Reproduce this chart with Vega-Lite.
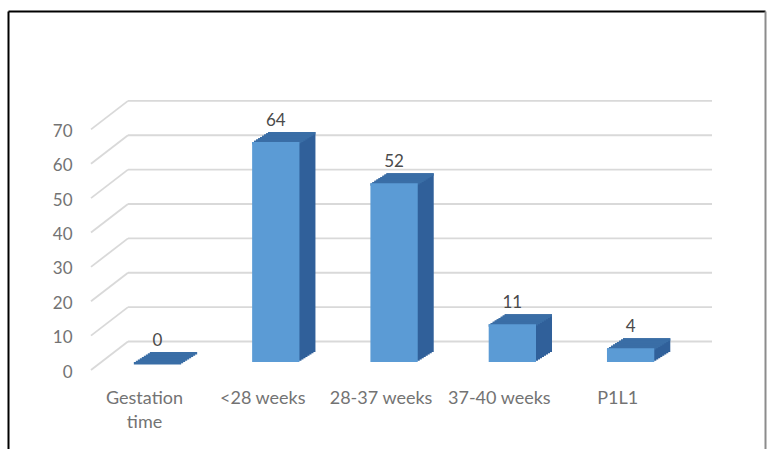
{
  "$schema": "https://vega.github.io/schema/vega-lite/v6.json",
  "width": 757,
  "height": 438,
  "autosize": "none",
  "padding": {"left": 8, "top": 11, "right": 2, "bottom": 0},
  "background": "#ffffff",
  "config": {"view": {"stroke": null}, "font": "Lato"},
  "datasets": {
    "bars": [
      {"cat": "Gestation time", "v": 0},
      {"cat": "<28 weeks", "v": 64},
      {"cat": "28-37 weeks", "v": 52},
      {"cat": "37-40 weeks", "v": 11},
      {"cat": "P1L1", "v": 4}
    ],
    "ticks": [{"t": 0}, {"t": 10}, {"t": 20}, {"t": 30}, {"t": 40}, {"t": 50}, {"t": 60}, {"t": 70}]
  },
  "layer": [
    {
      "data": {"name": "ticks"},
      "mark": {"type": "rule", "color": "#d9d9d9", "strokeWidth": 1.8, "xOffset": 120, "x2Offset": -53, "yOffset": -20.5},
      "encoding": {
        "x": {"value": 0},
        "x2": {"value": "width"},
        "y": {"field": "t", "type": "quantitative", "scale": {"domain": [-25.309, 102.109], "nice": false, "zero": false},
          "axis": {"orient": "left", "values": [0, 10, 20, 30, 40, 50, 60, 70], "domain": true, "domainColor": "#000000", "domainWidth": 2, "ticks": false, "tickSize": 0, "labelPadding": -64, "labelOffset": 10, "labelAlign": "right", "labelBaseline": "middle", "labelFont": "Lato", "labelFontSize": 17, "labelColor": "#737373", "grid": false, "title": null, "labelOverlap": false, "labelBound": false, "labelFlush": false}}
      }
    },
    {
      "data": {"name": "ticks"},
      "mark": {"type": "rule", "color": "#d9d9d9", "strokeWidth": 1.8, "xOffset": 83, "x2Offset": 120, "yOffset": 8, "y2Offset": -20.5},
      "encoding": {
        "x": {"value": 0},
        "x2": {"value": 0},
        "y": {"field": "t", "type": "quantitative", "scale": {"domain": [-25.309, 102.109], "nice": false, "zero": false}, "axis": null},
        "y2": {"field": "t"}
      }
    },
    {"data": {"name": "bars"}, "mark": {"type": "bar", "color": "#30609a", "xOffset": 2, "x2Offset": 2, "yOffset": -1.25, "y2Offset": -1.25},
      "encoding": {"x": {"field": "cat", "type": "nominal", "sort": null, "scale": {"type": "band", "paddingInner": 0.6, "paddingOuter": 1.035, "align": 0.532},
        "axis": {"orient": "top", "domain": true, "domainColor": "#000000", "domainWidth": 2, "labels": false, "ticks": false, "grid": false, "title": null}},
        "y": {"field": "v", "type": "quantitative", "scale": {"domain": [-25.309, 102.109], "nice": false, "zero": false},
          "axis": {"orient": "right", "domain": true, "domainColor": "#8c8c8c", "domainWidth": 2, "labels": false, "ticks": false, "grid": false, "title": null}},
        "y2": {"datum": 0}}},
    {"data": {"name": "bars"}, "mark": {"type": "bar", "color": "#30609a", "xOffset": 4, "x2Offset": 4, "yOffset": -2.5, "y2Offset": -2.5},
      "encoding": {"x": {"field": "cat", "type": "nominal", "sort": null, "scale": {"type": "band", "paddingInner": 0.6, "paddingOuter": 1.035, "align": 0.532}, "axis": null},
        "y": {"field": "v", "type": "quantitative", "scale": {"domain": [-25.309, 102.109], "nice": false, "zero": false}, "axis": null}, "y2": {"datum": 0}}},
    {"data": {"name": "bars"}, "mark": {"type": "bar", "color": "#30609a", "xOffset": 6, "x2Offset": 6, "yOffset": -3.75, "y2Offset": -3.75},
      "encoding": {"x": {"field": "cat", "type": "nominal", "sort": null, "scale": {"type": "band", "paddingInner": 0.6, "paddingOuter": 1.035, "align": 0.532}, "axis": null},
        "y": {"field": "v", "type": "quantitative", "scale": {"domain": [-25.309, 102.109], "nice": false, "zero": false}, "axis": null}, "y2": {"datum": 0}}},
    {"data": {"name": "bars"}, "mark": {"type": "bar", "color": "#30609a", "xOffset": 8, "x2Offset": 8, "yOffset": -5, "y2Offset": -5},
      "encoding": {"x": {"field": "cat", "type": "nominal", "sort": null, "scale": {"type": "band", "paddingInner": 0.6, "paddingOuter": 1.035, "align": 0.532}, "axis": null},
        "y": {"field": "v", "type": "quantitative", "scale": {"domain": [-25.309, 102.109], "nice": false, "zero": false}, "axis": null}, "y2": {"datum": 0}}},
    {"data": {"name": "bars"}, "mark": {"type": "bar", "color": "#30609a", "xOffset": 10, "x2Offset": 10, "yOffset": -6.25, "y2Offset": -6.25},
      "encoding": {"x": {"field": "cat", "type": "nominal", "sort": null, "scale": {"type": "band", "paddingInner": 0.6, "paddingOuter": 1.035, "align": 0.532}, "axis": null},
        "y": {"field": "v", "type": "quantitative", "scale": {"domain": [-25.309, 102.109], "nice": false, "zero": false}, "axis": null}, "y2": {"datum": 0}}},
    {"data": {"name": "bars"}, "mark": {"type": "bar", "color": "#30609a", "xOffset": 12, "x2Offset": 12, "yOffset": -7.5, "y2Offset": -7.5},
      "encoding": {"x": {"field": "cat", "type": "nominal", "sort": null, "scale": {"type": "band", "paddingInner": 0.6, "paddingOuter": 1.035, "align": 0.532}, "axis": null},
        "y": {"field": "v", "type": "quantitative", "scale": {"domain": [-25.309, 102.109], "nice": false, "zero": false}, "axis": null}, "y2": {"datum": 0}}},
    {"data": {"name": "bars"}, "mark": {"type": "bar", "color": "#30609a", "xOffset": 14, "x2Offset": 14, "yOffset": -8.75, "y2Offset": -8.75},
      "encoding": {"x": {"field": "cat", "type": "nominal", "sort": null, "scale": {"type": "band", "paddingInner": 0.6, "paddingOuter": 1.035, "align": 0.532}, "axis": null},
        "y": {"field": "v", "type": "quantitative", "scale": {"domain": [-25.309, 102.109], "nice": false, "zero": false}, "axis": null}, "y2": {"datum": 0}}},
    {"data": {"name": "bars"}, "mark": {"type": "bar", "color": "#30609a", "xOffset": 16, "x2Offset": 16, "yOffset": -10, "y2Offset": -10},
      "encoding": {"x": {"field": "cat", "type": "nominal", "sort": null, "scale": {"type": "band", "paddingInner": 0.6, "paddingOuter": 1.035, "align": 0.532}, "axis": null},
        "y": {"field": "v", "type": "quantitative", "scale": {"domain": [-25.309, 102.109], "nice": false, "zero": false}, "axis": null}, "y2": {"datum": 0}}},
    {"data": {"name": "bars"}, "mark": {"type": "bar", "color": "#3a6ea6", "xOffset": 0, "x2Offset": 0, "yOffset": 0, "y2Offset": 2.5},
      "encoding": {"x": {"field": "cat", "type": "nominal", "sort": null, "scale": {"type": "band", "paddingInner": 0.6, "paddingOuter": 1.035, "align": 0.532}, "axis": null},
        "y": {"field": "v", "type": "quantitative", "scale": {"domain": [-25.309, 102.109], "nice": false, "zero": false}, "axis": null}, "y2": {"field": "v"}}},
    {"data": {"name": "bars"}, "mark": {"type": "bar", "color": "#3a6ea6", "xOffset": 2, "x2Offset": 2, "yOffset": -1.25, "y2Offset": 1.25},
      "encoding": {"x": {"field": "cat", "type": "nominal", "sort": null, "scale": {"type": "band", "paddingInner": 0.6, "paddingOuter": 1.035, "align": 0.532}, "axis": null},
        "y": {"field": "v", "type": "quantitative", "scale": {"domain": [-25.309, 102.109], "nice": false, "zero": false}, "axis": null}, "y2": {"field": "v"}}},
    {"data": {"name": "bars"}, "mark": {"type": "bar", "color": "#3a6ea6", "xOffset": 4, "x2Offset": 4, "yOffset": -2.5, "y2Offset": 0},
      "encoding": {"x": {"field": "cat", "type": "nominal", "sort": null, "scale": {"type": "band", "paddingInner": 0.6, "paddingOuter": 1.035, "align": 0.532}, "axis": null},
        "y": {"field": "v", "type": "quantitative", "scale": {"domain": [-25.309, 102.109], "nice": false, "zero": false}, "axis": null}, "y2": {"field": "v"}}},
    {"data": {"name": "bars"}, "mark": {"type": "bar", "color": "#3a6ea6", "xOffset": 6, "x2Offset": 6, "yOffset": -3.75, "y2Offset": -1.25},
      "encoding": {"x": {"field": "cat", "type": "nominal", "sort": null, "scale": {"type": "band", "paddingInner": 0.6, "paddingOuter": 1.035, "align": 0.532}, "axis": null},
        "y": {"field": "v", "type": "quantitative", "scale": {"domain": [-25.309, 102.109], "nice": false, "zero": false}, "axis": null}, "y2": {"field": "v"}}},
    {"data": {"name": "bars"}, "mark": {"type": "bar", "color": "#3a6ea6", "xOffset": 8, "x2Offset": 8, "yOffset": -5, "y2Offset": -2.5},
      "encoding": {"x": {"field": "cat", "type": "nominal", "sort": null, "scale": {"type": "band", "paddingInner": 0.6, "paddingOuter": 1.035, "align": 0.532}, "axis": null},
        "y": {"field": "v", "type": "quantitative", "scale": {"domain": [-25.309, 102.109], "nice": false, "zero": false}, "axis": null}, "y2": {"field": "v"}}},
    {"data": {"name": "bars"}, "mark": {"type": "bar", "color": "#3a6ea6", "xOffset": 10, "x2Offset": 10, "yOffset": -6.25, "y2Offset": -3.75},
      "encoding": {"x": {"field": "cat", "type": "nominal", "sort": null, "scale": {"type": "band", "paddingInner": 0.6, "paddingOuter": 1.035, "align": 0.532}, "axis": null},
        "y": {"field": "v", "type": "quantitative", "scale": {"domain": [-25.309, 102.109], "nice": false, "zero": false}, "axis": null}, "y2": {"field": "v"}}},
    {"data": {"name": "bars"}, "mark": {"type": "bar", "color": "#3a6ea6", "xOffset": 12, "x2Offset": 12, "yOffset": -7.5, "y2Offset": -5},
      "encoding": {"x": {"field": "cat", "type": "nominal", "sort": null, "scale": {"type": "band", "paddingInner": 0.6, "paddingOuter": 1.035, "align": 0.532}, "axis": null},
        "y": {"field": "v", "type": "quantitative", "scale": {"domain": [-25.309, 102.109], "nice": false, "zero": false}, "axis": null}, "y2": {"field": "v"}}},
    {"data": {"name": "bars"}, "mark": {"type": "bar", "color": "#3a6ea6", "xOffset": 14, "x2Offset": 14, "yOffset": -8.75, "y2Offset": -6.25},
      "encoding": {"x": {"field": "cat", "type": "nominal", "sort": null, "scale": {"type": "band", "paddingInner": 0.6, "paddingOuter": 1.035, "align": 0.532}, "axis": null},
        "y": {"field": "v", "type": "quantitative", "scale": {"domain": [-25.309, 102.109], "nice": false, "zero": false}, "axis": null}, "y2": {"field": "v"}}},
    {"data": {"name": "bars"}, "mark": {"type": "bar", "color": "#3a6ea6", "xOffset": 16, "x2Offset": 16, "yOffset": -10, "y2Offset": -7.5},
      "encoding": {"x": {"field": "cat", "type": "nominal", "sort": null, "scale": {"type": "band", "paddingInner": 0.6, "paddingOuter": 1.035, "align": 0.532}, "axis": null},
        "y": {"field": "v", "type": "quantitative", "scale": {"domain": [-25.309, 102.109], "nice": false, "zero": false}, "axis": null}, "y2": {"field": "v"}}},
    {"data": {"name": "bars"}, "mark": {"type": "bar", "color": "#5b9bd5"},
      "encoding": {"x": {"field": "cat", "type": "nominal", "sort": null, "scale": {"type": "band", "paddingInner": 0.6, "paddingOuter": 1.035, "align": 0.532},
        "axis": {"orient": "bottom", "domain": false, "ticks": false, "tickSize": 0, "labelPadding": -60, "labelOffset": -13, "labelAngle": 0, "labelFont": "Lato", "labelFontSize": 18, "labelColor": "#737373", "labelLineHeight": 24, "labelBaseline": "top", "labelOverlap": false, "labelBound": false, "labelFlush": false, "grid": false, "title": null,
          "labelExpr": "datum.value == 'Gestation time' ? ['Gestation', 'time'] : datum.value"}},
        "y": {"field": "v", "type": "quantitative", "scale": {"domain": [-25.309, 102.109], "nice": false, "zero": false}, "axis": null}, "y2": {"datum": 0}}},
    {"data": {"name": "bars"}, "mark": {"type": "text", "dy": -21, "baseline": "middle", "align": "center", "font": "Lato", "fontSize": 17, "color": "#4a4a4a"},
      "encoding": {"x": {"field": "cat", "type": "nominal", "sort": null, "scale": {"type": "band", "paddingInner": 0.6, "paddingOuter": 1.035, "align": 0.532}, "axis": null},
        "y": {"field": "v", "type": "quantitative", "scale": {"domain": [-25.309, 102.109], "nice": false, "zero": false}, "axis": null},
        "text": {"field": "v", "type": "quantitative"}}}
  ],
  "resolve": {"axis": {"x": "independent", "y": "independent"}}
}
